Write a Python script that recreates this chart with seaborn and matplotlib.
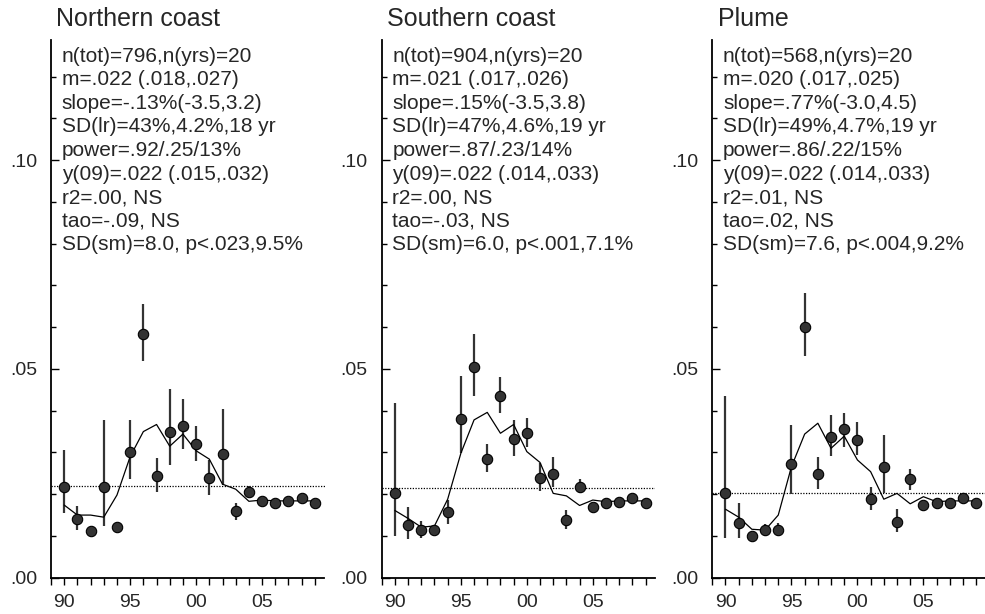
import numpy as np
import pandas as pd
import matplotlib
matplotlib.use("Agg")
import matplotlib.pyplot as plt
from matplotlib.ticker import MultipleLocator, FixedLocator, FixedFormatter
import seaborn as sns

years = list(range(1990, 2010))
titles = ["Northern coast", "Southern coast", "Plume"]

north_mean = [0.0217, 0.0141, 0.0113, 0.0217, 0.0122, 0.0300, 0.0583, 0.0244, 0.0350, 0.0364,
              0.0320, 0.0238, 0.0297, 0.0160, 0.0205, 0.0184, 0.0180, 0.0184, 0.0190, 0.0180]
north_lo = [0.0154, 0.0114, 0.0110, 0.0124, 0.0115, 0.0236, 0.0518, 0.0205, 0.0269, 0.0308,
            0.0280, 0.0197, 0.0222, 0.0138, 0.0194, 0.0182, 0.0178, 0.0182, 0.0188, 0.0178]
north_hi = [0.0306, 0.0172, 0.0116, 0.0378, 0.0130, 0.0378, 0.0656, 0.0286, 0.0451, 0.0428,
            0.0364, 0.0282, 0.0403, 0.0180, 0.0220, 0.0186, 0.0182, 0.0186, 0.0192, 0.0182]
north_smooth = [0.0174, 0.0150, 0.0150, 0.0145, 0.0198, 0.0290, 0.0350, 0.0367, 0.0315, 0.0344,
                0.0304, 0.0284, 0.0224, 0.0212, 0.0183, 0.0186, 0.0184, 0.0184, 0.0184, 0.0184]
north_m = 0.0220

south_mean = [0.0204, 0.0126, 0.0114, 0.0114, 0.0157, 0.0379, 0.0504, 0.0284, 0.0436, 0.0332,
              0.0346, 0.0240, 0.0249, 0.0138, 0.0218, 0.0170, 0.0180, 0.0181, 0.0190, 0.0180]
south_lo = [0.0100, 0.0092, 0.0094, 0.0110, 0.0128, 0.0298, 0.0435, 0.0252, 0.0394, 0.0292,
            0.0312, 0.0208, 0.0218, 0.0116, 0.0202, 0.0168, 0.0178, 0.0179, 0.0188, 0.0178]
south_hi = [0.0418, 0.0169, 0.0137, 0.0118, 0.0186, 0.0483, 0.0583, 0.0320, 0.0481, 0.0378,
            0.0382, 0.0274, 0.0288, 0.0162, 0.0236, 0.0172, 0.0182, 0.0183, 0.0192, 0.0182]
south_smooth = [0.0161, 0.0142, 0.0121, 0.0124, 0.0188, 0.0298, 0.0378, 0.0396, 0.0346, 0.0367,
                0.0302, 0.0276, 0.0202, 0.0196, 0.0173, 0.0186, 0.0182, 0.0184, 0.0184, 0.0184]
south_m = 0.0215

plume_mean = [0.0204, 0.0132, 0.0101, 0.0114, 0.0114, 0.0272, 0.0601, 0.0248, 0.0338, 0.0355,
              0.0331, 0.0188, 0.0264, 0.0134, 0.0236, 0.0174, 0.0180, 0.0180, 0.0190, 0.0180]
plume_lo = [0.0096, 0.0096, 0.0098, 0.0101, 0.0099, 0.0200, 0.0531, 0.0212, 0.0292, 0.0314,
            0.0294, 0.0161, 0.0204, 0.0109, 0.0210, 0.0172, 0.0178, 0.0178, 0.0188, 0.0178]
plume_hi = [0.0435, 0.0180, 0.0104, 0.0129, 0.0130, 0.0366, 0.0681, 0.0288, 0.0390, 0.0394,
            0.0372, 0.0218, 0.0343, 0.0164, 0.0260, 0.0176, 0.0182, 0.0182, 0.0192, 0.0182]
plume_smooth = [0.0164, 0.0145, 0.0116, 0.0114, 0.0150, 0.0266, 0.0344, 0.0370, 0.0310, 0.0339,
                0.0282, 0.0254, 0.0188, 0.0202, 0.0177, 0.0194, 0.0182, 0.0184, 0.0184, 0.0184]
plume_m = 0.0204

north_text = ["n(tot)=796,n(yrs)=20", "m=.022 (.018,.027)", "slope=-.13%(-3.5,3.2)",
              "SD(lr)=43%,4.2%,18 yr", "power=.92/.25/13%", "y(09)=.022 (.015,.032)",
              "r2=.00, NS", "tao=-.09, NS", "SD(sm)=8.0, p<.023,9.5%"]
south_text = ["n(tot)=904,n(yrs)=20", "m=.021 (.017,.026)", "slope=.15%(-3.5,3.8)",
              "SD(lr)=47%,4.6%,19 yr", "power=.87/.23/14%", "y(09)=.022 (.014,.033)",
              "r2=.00, NS", "tao=-.03, NS", "SD(sm)=6.0, p<.001,7.1%"]
plume_text = ["n(tot)=568,n(yrs)=20", "m=.020 (.017,.025)", "slope=.77%(-3.0,4.5)",
              "SD(lr)=49%,4.7%,19 yr", "power=.86/.22/15%", "y(09)=.022 (.014,.033)",
              "r2=.01, NS", "tao=.02, NS", "SD(sm)=7.6, p<.004,9.2%"]

panels = [
    (north_mean, north_lo, north_hi, north_smooth, north_m, north_text),
    (south_mean, south_lo, south_hi, south_smooth, south_m, south_text),
    (plume_mean, plume_lo, plume_hi, plume_smooth, plume_m, plume_text),
]

sns.set_style("ticks")
plt.rcParams['font.family'] = ['Liberation Sans', 'DejaVu Sans']

fig = plt.figure(figsize=(9.85, 6.14), dpi=100)
lefts = [51 / 985, 381.7 / 985, 712.3 / 985]
width = 273.5 / 985
bottom = (614 - 577.7) / 614
height = 537.7 / 614

for i, (mean, lo, hi, smooth, m, lines) in enumerate(panels):
    ax = fig.add_axes([lefts[i], bottom, width, height])
    df = pd.DataFrame({"year": years, "mean": mean, "lo": lo, "hi": hi, "smooth": smooth})
    ax.axhline(m, color="black", lw=0.9, ls=(0, (1, 1.2)), zorder=1)
    ax.vlines(df["year"], df["lo"], df["hi"], color="#333333", lw=1.6, zorder=2)
    sns.lineplot(data=df, x="year", y="smooth", ax=ax, color="black", lw=0.9, zorder=3)
    sns.scatterplot(data=df, x="year", y="mean", ax=ax, s=56, color="#333333",
                    edgecolor="black", linewidth=0.8, zorder=4)
    ax.set_xlim(1989.0, 2009.73)
    ax.set_ylim(0, 0.1288)
    ax.set_xlabel("")
    ax.set_ylabel("")
    sns.despine(ax=ax)
    for s in ["left", "bottom"]:
        ax.spines[s].set_linewidth(1.3)
        ax.spines[s].set_color("black")
    ax.xaxis.set_major_locator(FixedLocator([1990, 1995, 2000, 2005]))
    ax.xaxis.set_major_formatter(FixedFormatter(["90", "95", "00", "05"]))
    ax.xaxis.set_minor_locator(MultipleLocator(1))
    ax.yaxis.set_major_locator(FixedLocator([0.0, 0.05, 0.10]))
    ax.yaxis.set_major_formatter(FixedFormatter([".00", ".05", ".10"]))
    ax.yaxis.set_minor_locator(MultipleLocator(0.01))
    ax.tick_params(axis="x", which="both", direction="out", length=5, width=1.0,
                   color="black", labelsize=14, pad=7)
    ax.tick_params(axis="y", which="major", direction="in", length=6, width=1.0,
                   color="black", labelsize=14, pad=10)
    ax.tick_params(axis="y", which="minor", direction="in", length=3.5, width=1.0, color="black")
    ax.set_title(titles[i], loc="left", fontsize=18, pad=10, x=0.02)
    for k, txt in enumerate(lines):
        ax.annotate(txt, xy=(0, 1), xycoords="axes fraction",
                    xytext=(10.7, -16 - 23.6 * k), textcoords="offset pixels",
                    ha="left", va="center", fontsize=15)

fig.savefig("out.png", dpi=100)
